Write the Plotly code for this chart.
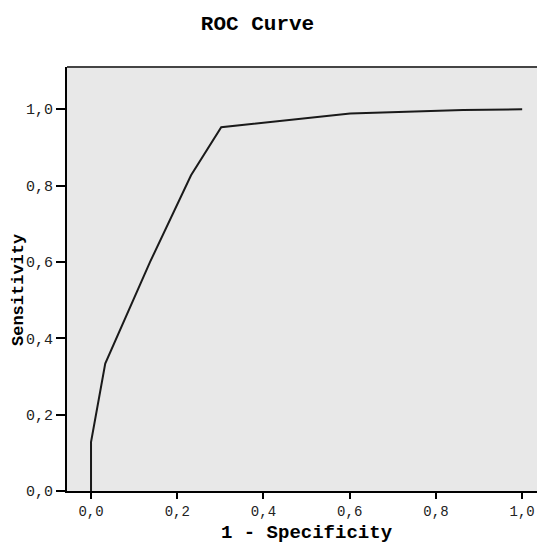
import plotly.graph_objects as go

fpr = [0.0, 0.0, 0.033, 0.137, 0.232, 0.302, 0.601, 0.863, 1.0]
tpr = [0.0, 0.128, 0.334, 0.600, 0.827, 0.953, 0.989, 0.998, 1.0]
tick_vals = [0.0, 0.2, 0.4, 0.6, 0.8, 1.0]
tick_text = ["0,0", "0,2", "0,4", "0,6", "0,8", "1,0"]

MONO = "Liberation Mono, Courier New, monospace"

# the page body has an 8px margin, so the figure is sized to fit the window
W, H = 537, 536
L, R, T, B = 59, 3, 59, 53
PW, PH = W - L - R, H - T - B

fig = go.Figure()
fig.add_trace(go.Scatter(x=fpr, y=tpr, mode="lines",
                         line=dict(color="#1a1a1a", width=2), showlegend=False,
                         hoverinfo="skip"))

fig.update_layout(
    width=W, height=H,
    margin=dict(l=L, r=R, t=T, b=B, pad=0),
    paper_bgcolor="white", plot_bgcolor="#e8e8e8",
    title=dict(text="<b>ROC Curve</b>", x=249.5 / W, xref="container",
               xanchor="center", y=1 - 15 / H, yanchor="middle",
               font=dict(family=MONO, size=21, color="black")),
    font=dict(family=MONO, color="black"),
    shapes=[
        dict(type="line", xref="paper", yref="paper", x0=0, x1=1, y0=1, y1=1,
             line=dict(color="#444444", width=2)),
        dict(type="line", xref="paper", yref="paper", x0=1, x1=1, y0=0, y1=1,
             line=dict(color="#b0b0b0", width=2)),
    ],
    annotations=[
        dict(text="<b>Sensitivity</b>", xref="paper", yref="paper",
             x=(10 - L) / PW, y=(T + PH - 282) / PH, textangle=-90,
             showarrow=False, xanchor="center", yanchor="middle",
             font=dict(family=MONO, size=17, color="black")),
        dict(text="<b>1 - Specificity</b>", xref="paper", yref="paper",
             x=(307 - 8 - L) / PW, y=-(533 - 8 - (T + PH)) / PH,
             showarrow=False, xanchor="center", yanchor="middle",
             font=dict(family=MONO, size=19, color="black")),
    ],
)
fig.update_xaxes(range=[-0.0557, 1.046], tickvals=tick_vals, ticktext=tick_text,
                 showgrid=False, zeroline=False, showline=True, linecolor="black", linewidth=2,
                 ticks="outside", ticklen=6, tickwidth=2, tickcolor="black",
                 tickfont=dict(family=MONO, size=14, color="#222"), automargin=False)
fig.update_yaxes(range=[0, 1.1106], tickvals=tick_vals, ticktext=tick_text,
                 showgrid=False, zeroline=False, showline=True, linecolor="black", linewidth=2,
                 ticks="outside", ticklen=9, tickwidth=2, tickcolor="black",
                 tickfont=dict(family=MONO, size=15, color="#222"), automargin=False)

fig.write_html("out.html")
